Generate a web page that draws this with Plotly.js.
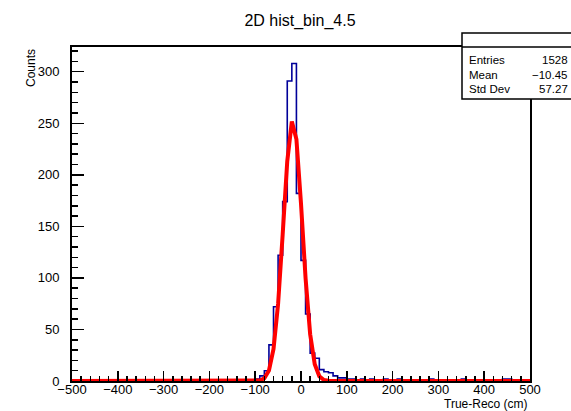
<!DOCTYPE html>
<html><head><meta charset="utf-8">
<script src="https://cdn.plot.ly/plotly-3.0.1.min.js"></script>
<style>html,body{margin:0;padding:0;background:#fff;} #chart{width:571px;height:411px;}</style>
</head><body><div id="chart"></div>
<script>
// ---- data ----
const histTitle = "2D hist_bin_4.5";
const xTitle = "True-Reco (cm)";
const yTitle = "Counts";
const xMin = -500, binWidth = 10;
// 100 bins from -500 to 500
const counts = [
  0,0,0,0,0,0,0,0,0,0,
  0,0,0,0,0,0,0,0,0,0,
  0,0,0,0,0,0,0,0,0,0,
  0,0,0,0,0,0,0,0,1,1,
  2,5,10,35,72,122,174,291,308,182,
  117,65,27,22,11,9,8,5,3,3,
  2,2,1,2,1,2,1,1,2,1,
  1,2,1,1,1,0,1,1,2,1,
  1,1,0,1,1,2,1,1,0,1,
  1,1,0,1,2,2,1,1,1,1
];
const fitX = [-500,-100,-90,-80,-70,-60,-50,-40,-30,-20,-10,0,10,20,30,40,50,60,70,500];
const fitY = [0,0.08,0.5,2.6,10.1,31.0,74.8,142.2,213.2,251.8,234.4,172.1,99.5,45.4,16.3,4.6,1.0,0.2,0.03,0];
const statLabels = ["Entries","Mean","Std Dev"];
const statValues = ["1528","\u221210.45","57.27"];

// ---- build ----
const edges = [];
for (let i = 0; i <= counts.length; i++) edges.push(xMin + i * binWidth);
const stepY = counts.concat([counts[counts.length - 1]]);

const W = 571, H = 411, L = 72, R = 41, T = 47, B = 30;
const pw = W - L - R, ph = H - T - B;
const px = x => (x - L) / pw;
const py = y => (H - B - y) / ph;

const font = 'Liberation Sans, Arial, Helvetica, sans-serif';

const traces = [
  {x: edges, y: stepY, type: 'scatter', mode: 'lines',
   line: {shape: 'hv', color: '#000099', width: 1.6}, hoverinfo: 'skip'},
  {x: fitX, y: fitY, type: 'scatter', mode: 'lines',
   line: {color: '#ff0000', width: 4}, hoverinfo: 'skip'}
];

const statRowsY = [60, 74.5, 89];
const annotations = [
  {text: yTitle, textangle: -90, xref: 'paper', yref: 'paper', x: px(31), y: 1.0,
   xanchor: 'center', yanchor: 'top', showarrow: false, font: {family: font, size: 12, color: '#000'}},
  {text: xTitle, xref: 'paper', yref: 'paper', x: 1.0, y: py(404),
   xanchor: 'right', yanchor: 'middle', showarrow: false, font: {family: font, size: 12, color: '#000'}}
];
statLabels.forEach((s, i) => {
  annotations.push({text: s, xref: 'paper', yref: 'paper', x: px(467), y: py(statRowsY[i]),
    xanchor: 'left', yanchor: 'middle', showarrow: false, font: {family: font, size: 11.5, color: '#000'}});
  annotations.push({text: statValues[i], xref: 'paper', yref: 'paper', x: px(570), y: py(statRowsY[i]),
    xanchor: 'right', yanchor: 'middle', showarrow: false, font: {family: font, size: 11.5, color: '#000'}});
});

const shapes = [
  {type: 'rect', xref: 'paper', yref: 'paper', x0: px(462), x1: px(580), y0: py(99), y1: py(33),
   fillcolor: '#fff', line: {color: '#000', width: 1.5}, layer: 'above'},
  {type: 'line', xref: 'paper', yref: 'paper', x0: px(462), x1: px(580), y0: py(47), y1: py(47),
   line: {color: '#000', width: 1.5}, layer: 'above'}
];

const axisCommon = {
  showgrid: false, zeroline: false, showline: true, linecolor: '#000', linewidth: 2,
  mirror: true, ticks: 'inside', tickcolor: '#000', tickwidth: 1.5,
  tickfont: {family: font, size: 13, color: '#000'}
};

const layout = {
  width: W, height: H,
  margin: {l: L, r: R, t: T, b: B, pad: 0},
  paper_bgcolor: '#fff', plot_bgcolor: '#fff',
  showlegend: false,
  title: {text: histTitle, font: {family: font, size: 16, color: '#000'},
          x: 300 / W, xref: 'container', xanchor: 'center', y: 1 - 20 / H, yref: 'container', yanchor: 'middle'},
  xaxis: Object.assign({}, axisCommon, {
    range: [-500, 500], dtick: 100, tick0: -500, ticklen: 10, ticklabelstandoff: -5,
    minor: {ticks: 'inside', dtick: 20, ticklen: 5, tickwidth: 1.5, tickcolor: '#000'}
  }),
  yaxis: Object.assign({}, axisCommon, {
    range: [0, 324], dtick: 50, tick0: 0, ticklen: 12, ticklabelstandoff: 8,
    minor: {ticks: 'inside', dtick: 10, ticklen: 6, tickwidth: 1.5, tickcolor: '#000'}
  }),
  annotations: annotations,
  shapes: shapes
};

Plotly.newPlot('chart', traces, layout, {staticPlot: true, displayModeBar: false});
</script>
</body></html>
